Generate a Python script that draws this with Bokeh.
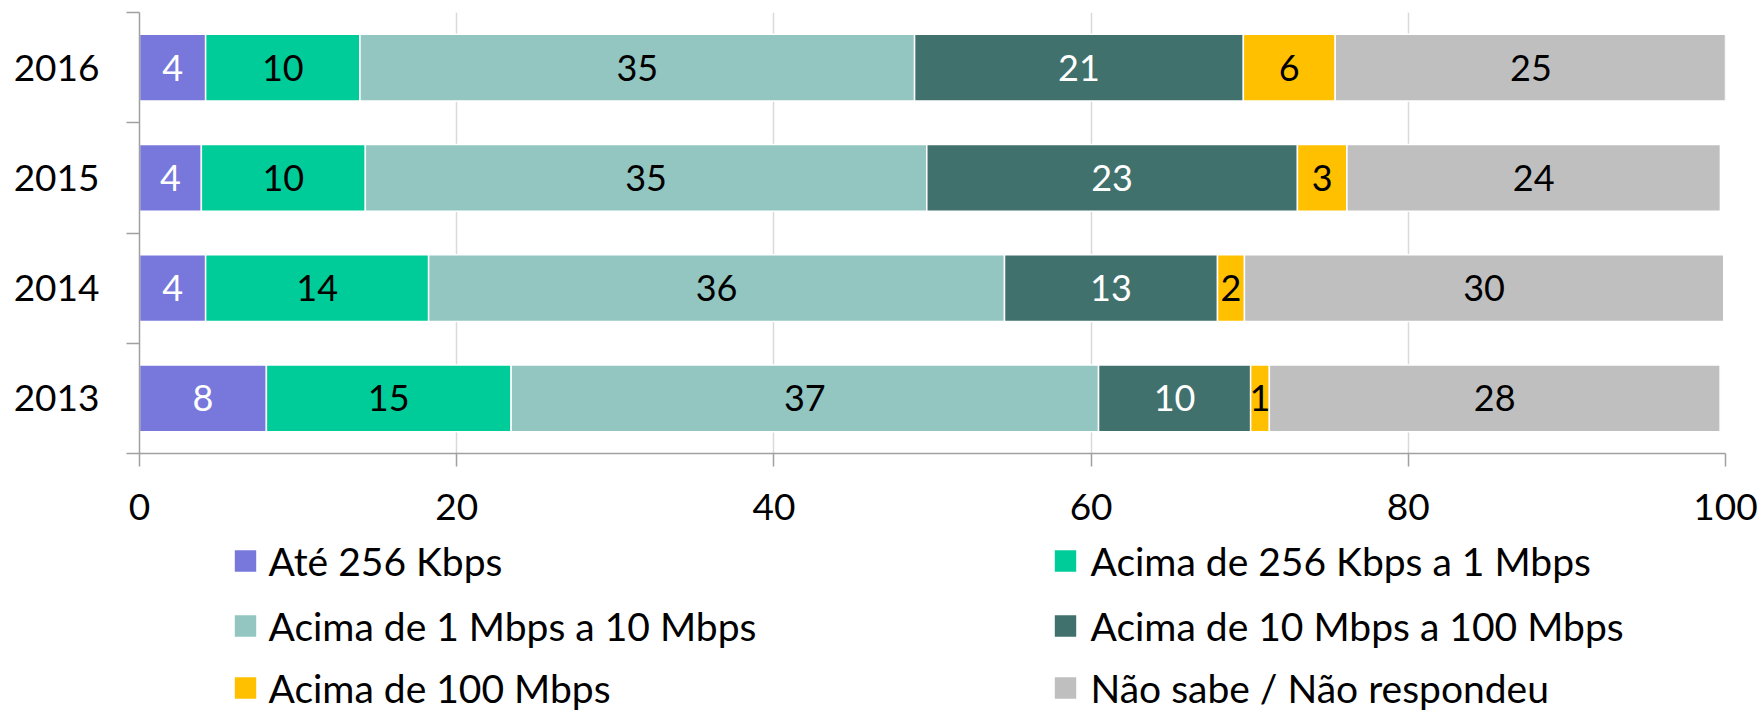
from bokeh.plotting import figure
from bokeh.models import ColumnDataSource, Range1d, FixedTicker
from bokeh.layouts import column
from bokeh.core.properties import value
from bokeh.embed import file_html
from bokeh.resources import INLINE

# ---------------- data ----------------
years = ["2013", "2014", "2015", "2016"]
series_names = [
    "Até 256 Kbps",
    "Acima de 256 Kbps a 1 Mbps",
    "Acima de 1 Mbps a 10 Mbps",
    "Acima de 10 Mbps a 100 Mbps",
    "Acima de 100 Mbps",
    "Não sabe / Não respondeu",
]
ate_256 = [8.0, 4.17, 3.9, 4.17]
acima_256_1m = [15.43, 14.06, 10.34, 9.73]
acima_1_10 = [37.04, 36.31, 35.4, 34.97]
acima_10_100 = [9.59, 13.43, 23.37, 20.73]
acima_100 = [1.18, 1.70, 3.12, 5.79]
nao_sabe = [28.42, 30.22, 23.55, 24.69]
x_ticks = [0, 20, 40, 60, 80, 100]

series = [ate_256, acima_256_1m, acima_1_10, acima_10_100, acima_100, nao_sabe]
colors = ["#7878DC", "#00CC99", "#93C6C1", "#41716D", "#FFC000", "#BFBFBF"]
label_colors = ["white", "black", "black", "white", "black", "black"]

FONT = "Lato"
AXIS_GREY = "#A0A0A0"

BL, BR = 139, 37          # left / right borders (shared by both panels)
FW = 1586                 # frame width
TOP = 12
FH = 441
BOT = 85

# ---------------- main chart ----------------
keys = ["s%d" % i for i in range(len(series))]
ypos = [i + 0.5 for i in range(len(years))]
data = {"y": ypos}
for k, s in zip(keys, series):
    data[k] = s
source = ColumnDataSource(data)

p = figure(frame_width=FW, frame_height=FH, output_backend="svg", toolbar_location=None,
           x_range=Range1d(0, 100), y_range=Range1d(0, len(years)),
           min_border_left=BL, min_border_right=BR, min_border_top=TOP, min_border_bottom=BOT)
p.outline_line_color = None

p.hbar_stack(keys, y="y", height=0.605, color=colors, source=source,
             line_color="white", line_width=1.5)

lx, ly, lt, lc = [], [], [], []
for j in range(len(years)):
    left = 0.0
    for i, s in enumerate(series):
        v = s[j]
        lx.append(left + v / 2.0)
        ly.append(ypos[j])
        lt.append("%d" % round(v))
        lc.append(label_colors[i])
        left += v
lsrc = ColumnDataSource(dict(x=lx, y=ly, t=lt, c=lc))
p.text(x="x", y="y", text="t", text_color="c", source=lsrc,
       text_font=value(FONT), text_font_size="36px",
       text_align="center", text_baseline="middle")

p.ygrid.grid_line_color = None
p.xgrid.ticker = FixedTicker(ticks=x_ticks)
p.xgrid.grid_line_color = "#D9D9D9"
p.xgrid.grid_line_width = 1.5
p.xgrid.level = "underlay"

xa = p.xaxis[0]
xa.ticker = FixedTicker(ticks=x_ticks)
xa.major_tick_out = 13
xa.major_tick_in = 0
xa.minor_tick_line_color = None
xa.axis_line_color = AXIS_GREY
xa.axis_line_width = 1.5
xa.major_tick_line_color = AXIS_GREY
xa.major_tick_line_width = 1.5
xa.major_label_text_font = FONT
xa.major_label_text_font_size = "37px"
xa.major_label_text_color = "black"
xa.major_label_standoff = 27

ya = p.yaxis[0]
ya.ticker = FixedTicker(ticks=ypos, minor_ticks=list(range(len(years) + 1)))
ya.major_label_overrides = {yv: yr for yv, yr in zip(ypos, years)}
ya.major_tick_out = 0
ya.major_tick_in = 0
ya.minor_tick_out = 13
ya.minor_tick_in = 0
ya.minor_tick_line_color = AXIS_GREY
ya.minor_tick_line_width = 1.5
ya.axis_line_color = AXIS_GREY
ya.axis_line_width = 1.5
ya.major_label_text_font = FONT
ya.major_label_text_font_size = "37px"
ya.major_label_text_color = "black"
ya.major_label_standoff = 27

# ---------------- legend panel ----------------
LH = 711 - (TOP + FH + BOT)
lg = figure(frame_width=FW, frame_height=LH, output_backend="svg", toolbar_location=None,
            x_range=Range1d(0, FW), y_range=Range1d(0, LH),
            min_border_left=BL, min_border_right=BR, min_border_top=0, min_border_bottom=0)
lg.outline_line_color = None
lg.xaxis.visible = False
lg.yaxis.visible = False
lg.grid.visible = False

# positions relative to the frame's left edge (x) and to the panel top (rows)
col_sq_x = [245.0 - BL, 1065.0 - BL]
col_tx_x = [268.0 - BL, 1090.0 - BL]
row_top = [22.5, 87.5, 149.5]

sqx, sqy, sqc, tx, ty, tt = [], [], [], [], [], []
for i, name in enumerate(series_names):
    c = i % 2
    r = i // 2
    sqx.append(col_sq_x[c]); sqy.append(LH - row_top[r]); sqc.append(colors[i])
    tx.append(col_tx_x[c]); ty.append(LH - row_top[r]); tt.append(name)
lg.rect(x=sqx, y=sqy, width=21.4, height=21.4, fill_color=sqc, line_color=None)
lg.text(x=tx, y=ty, text=tt, text_font=value(FONT), text_font_size="39px",
        text_color="black", text_align="left", text_baseline="middle")

layout = column(p, lg, spacing=0)
open("out.html", "w").write(file_html(layout, INLINE))
